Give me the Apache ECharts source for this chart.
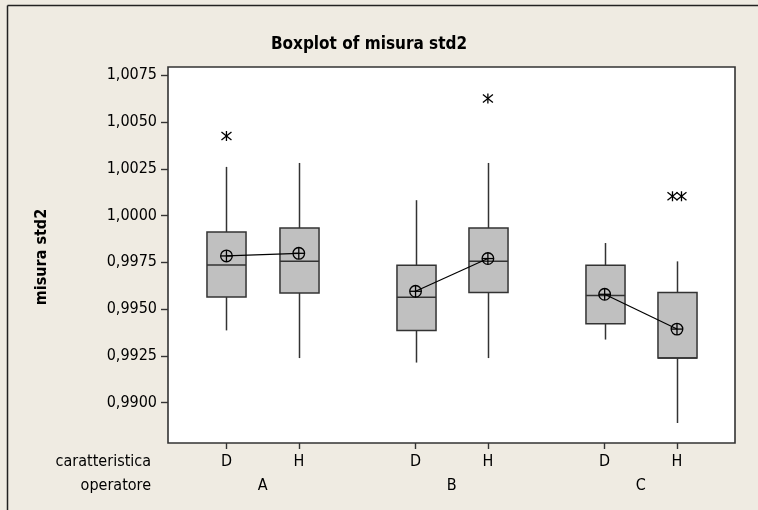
<!DOCTYPE html>
<html><head><meta charset="utf-8">
<script src="https://cdn.jsdelivr.net/npm/echarts@6/dist/echarts.min.js"></script>
<style>html,body{margin:0;padding:0;background:#efebe2}#c{width:758px;height:510px}</style>
</head><body><div id="c"></div>
<script>
// ---- data ----
const operatori = ['A', 'B', 'C'];
const caratteristiche = ['D', 'H'];
// boxes in order: A-D, A-H, B-D, B-H, C-D, C-H
const whiskerLow  = [0.99386, 0.99238, 0.99214, 0.99238, 0.99337, 0.98891];
const q1          = [0.99564, 0.99586, 0.99386, 0.99588, 0.99422, 0.99238];
const median      = [0.99736, 0.99755, 0.99563, 0.99755, 0.99572, 0.99238];
const q3          = [0.99912, 0.99933, 0.99734, 0.99933, 0.99734, 0.99588];
const whiskerHigh = [1.00260, 1.00281, 1.00082, 1.00281, 0.99853, 0.99755];
const means       = [0.99784, 0.99798, 0.99595, 0.99770, 0.99579, 0.99393];
const outliers    = [[1.00425], [], [], [1.00625], [], [1.00103, 1.00103]];
const yTicks = [0.9900, 0.9925, 0.9950, 0.9975, 1.0000, 1.0025, 1.0050, 1.0075];
const title = 'Boxplot of misura std2';
const yName = 'misura std2';
const rowNames = ['caratteristica', 'operatore'];

// ---- layout ----
const FONT = "'DejaVu Sans Condensed', 'DejaVu Sans', sans-serif";
const GROUP_STEP = 2.614;
const BOX_W = 0.54;
const X_MIN = -0.808, X_MAX = 7.03;
const Y_MIN = 0.98784, Y_MAX = 1.00794;
const nBox = operatori.length * caratteristiche.length;
const xPos = i => Math.floor(i / caratteristiche.length) * GROUP_STEP + (i % caratteristiche.length);
const boxX = Array.from({length: nBox}, (_, i) => xPos(i));
const groupCenters = operatori.map((_, g) => g * GROUP_STEP + (caratteristiche.length - 1) / 2);
const nearestIdx = (arr, v) => { let b = 0; arr.forEach((a, i) => { if (Math.abs(a - v) < Math.abs(arr[b] - v)) b = i; }); return b; };

const boxData = boxX.map((x, i) => [x, whiskerLow[i], q1[i], median[i], q3[i], whiskerHigh[i]]);
const meanData = boxX.map((x, i) => [x, means[i]]);
const outlierData = [];
outliers.forEach((list, i) => list.forEach((v, k) => {
  const dup = list.filter(u => u === v).length;
  const rank = list.slice(0, k).filter(u => u === v).length;
  outlierData.push([boxX[i], v, rank, dup]);
}));

const LINE = '#333333';
const series = [];
series.push({
  type: 'custom', z: 2,
  data: boxData,
  renderItem(params, api) {
    const x = api.value(0);
    const pLow = api.coord([x, api.value(1)]);
    const pQ1 = api.coord([x, api.value(2)]);
    const pMed = api.coord([x, api.value(3)]);
    const pQ3 = api.coord([x, api.value(4)]);
    const pHigh = api.coord([x, api.value(5)]);
    const w = api.size([BOX_W, 0])[0];
    const cx = Math.round(pQ1[0]) + 0.5;
    const st = {stroke: LINE, lineWidth: 1.5};
    return {type: 'group', children: [
      {type: 'line', shape: {x1: cx, y1: pQ3[1], x2: cx, y2: pHigh[1]}, style: st},
      {type: 'line', shape: {x1: cx, y1: pQ1[1], x2: cx, y2: pLow[1]}, style: st},
      {type: 'rect', shape: {x: cx - w / 2, y: pQ3[1], width: w, height: pQ1[1] - pQ3[1]}, style: {fill: '#c0c0c0', stroke: LINE, lineWidth: 1.5}},
      {type: 'line', shape: {x1: cx - w / 2, y1: pMed[1], x2: cx + w / 2, y2: pMed[1]}, style: st}
    ]};
  }
});
operatori.forEach((_, g) => {
  series.push({
    type: 'line', z: 3, symbol: 'none', silent: true,
    data: meanData.slice(g * caratteristiche.length, (g + 1) * caratteristiche.length),
    lineStyle: {color: '#000', width: 1.2}
  });
});
series.push({
  type: 'custom', z: 4,
  data: meanData,
  renderItem(params, api) {
    const p = api.coord([api.value(0), api.value(1)]);
    const r = 5.8;
    const st = {stroke: '#000', lineWidth: 1.3, fill: null};
    return {type: 'group', children: [
      {type: 'circle', shape: {cx: p[0], cy: p[1], r: r}, style: {stroke: '#000', lineWidth: 1.3, fill: 'rgba(0,0,0,0)'}},
      {type: 'line', shape: {x1: p[0] - r, y1: p[1], x2: p[0] + r, y2: p[1]}, style: st},
      {type: 'line', shape: {x1: p[0], y1: p[1] - r, x2: p[0], y2: p[1] + r}, style: st}
    ]};
  }
});
series.push({
  type: 'custom', z: 4,
  data: outlierData,
  renderItem(params, api) {
    const p = api.coord([api.value(0), api.value(1)]);
    const rank = api.value(2), dup = api.value(3);
    const cx = p[0] + (rank - (dup - 1) / 2) * 9;
    const cy = p[1];
    const st = {stroke: '#000', lineWidth: 1.3};
    return {type: 'group', children: [
      {type: 'line', shape: {x1: cx - 5, y1: cy - 4, x2: cx + 5, y2: cy + 4}, style: st},
      {type: 'line', shape: {x1: cx - 5, y1: cy + 4, x2: cx + 5, y2: cy - 4}, style: st},
      {type: 'line', shape: {x1: cx, y1: cy - 5, x2: cx, y2: cy + 5}, style: st}
    ]};
  }
});

const fmtY = v => v.toFixed(4).replace('.', ',');
const option = {
  animation: false,
  backgroundColor: '#efebe2',
  grid: {left: 168, right: 23, top: 67, bottom: 67, show: true,
    backgroundColor: '#ffffff', borderColor: '#333333', borderWidth: 1.6},
  xAxis: [{
    type: 'value', min: X_MIN, max: X_MAX, position: 'bottom',
    splitLine: {show: false},
    axisLine: {show: false, onZero: false},
    axisTick: {show: true, customValues: boxX, length: 6, lineStyle: {color: '#333', width: 1.4}},
    axisLabel: {customValues: boxX, margin: 11, color: '#000', fontFamily: FONT, fontSize: 16,
      formatter: v => caratteristiche[nearestIdx(boxX, v) % caratteristiche.length]}
  }, {
    type: 'value', min: X_MIN, max: X_MAX, position: 'bottom',
    splitLine: {show: false}, axisLine: {show: false, onZero: false}, axisTick: {show: false},
    axisLabel: {customValues: groupCenters, margin: 35, color: '#000', fontFamily: FONT, fontSize: 16,
      formatter: v => operatori[nearestIdx(groupCenters, v)]}
  }],
  yAxis: {
    type: 'value', min: Y_MIN, max: Y_MAX,
    splitLine: {show: false},
    axisLine: {show: false, onZero: false},
    axisTick: {show: true, customValues: yTicks, length: 7, lineStyle: {color: '#333', width: 1.4}},
    axisLabel: {customValues: yTicks, margin: 11, color: '#000', fontFamily: FONT, fontSize: 16, formatter: fmtY}
  },
  graphic: [
    {type: 'line', silent: true, shape: {x1: 7.5, y1: 5.5, x2: 800, y2: 5.5}, style: {stroke: '#222', lineWidth: 1.5}},
    {type: 'line', silent: true, shape: {x1: 7.5, y1: 5.5, x2: 7.5, y2: 600}, style: {stroke: '#222', lineWidth: 1.5}},
    {type: 'text', x: 369, y: 45, silent: true,
      style: {text: title, align: 'center', verticalAlign: 'middle', fill: '#000', font: 'bold 17px ' + FONT}},
    {type: 'text', x: 42, y: 257, rotation: Math.PI / 2, silent: true,
      style: {text: yName, align: 'center', verticalAlign: 'middle', fill: '#000', font: 'bold 16px ' + FONT}},
    {type: 'text', x: 151, y: 462, silent: true,
      style: {text: rowNames[0], align: 'right', verticalAlign: 'middle', fill: '#000', font: '16px ' + FONT}},
    {type: 'text', x: 151, y: 486, silent: true,
      style: {text: rowNames[1], align: 'right', verticalAlign: 'middle', fill: '#000', font: '16px ' + FONT}}
  ],
  series: series
};
echarts.init(document.getElementById('c'), null, {renderer: 'canvas'}).setOption(option);
</script></body></html>
